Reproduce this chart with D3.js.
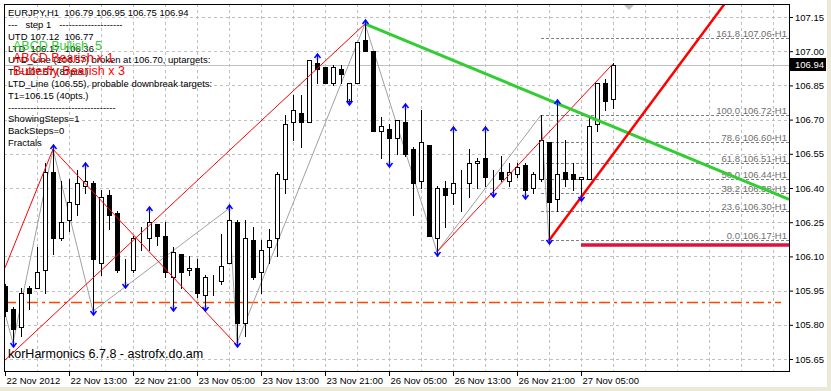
<!DOCTYPE html>
<html>
<head>
<meta charset="utf-8">
<script src="https://cdn.jsdelivr.net/npm/d3@7"></script>
<style>
  body { margin: 0; background: #fff; }
  svg { display: block; }
  text { font-family: "Liberation Sans", Arial, sans-serif; white-space: pre; }
</style>
</head>
<body>
<svg width="831" height="391"></svg>
<script>
// EURJPY H1 candles, 22 Nov 05:00 .. 27 Nov 09:00
var open = [105.97,105.87,105.79,105.96,105.96,106.04,106.47,106.18,106.26,106.33,
  106.41,106.42,106.07,106.37,106.29,106.03,106.04,106.18,106.18,106.24,
  106.19,106.01,106.11,106.04,106.05,105.93,106.00,105.99,106.07,106.25,
  105.81,106.17,106.03,106.14,106.18,106.44,106.69,106.73,106.69,106.95,
  106.93,106.86,106.92,106.78,106.86,107.05,107.00,106.65,106.66,106.62,
  106.69,106.57,106.43,106.59,106.18,106.40,106.38,106.43,106.42,106.51,
  106.53,106.46,106.47,106.43,106.46,106.50,106.40,106.44,106.60,106.35,
  106.47,106.46,106.44,106.44,106.68,106.86,106.79];
var high = [105.98,105.88,105.96,105.97,106.14,106.51,106.57,106.43,106.44,106.48,
  106.49,106.43,106.39,106.39,106.30,106.09,106.19,106.23,106.30,106.24,
  106.25,106.14,106.11,106.10,106.09,106.02,106.02,106.20,106.31,106.26,
  106.26,106.23,106.17,106.22,106.47,106.72,106.81,106.81,106.96,106.97,
  106.93,106.94,106.94,106.86,107.04,107.12,107.00,106.71,106.68,106.70,
  106.75,106.58,106.74,106.59,106.41,106.43,106.65,106.48,106.57,106.53,
  106.65,106.48,106.54,106.51,106.51,106.51,106.47,106.72,106.60,106.77,
  106.61,106.51,106.45,106.71,106.86,106.88,106.95];
var low = [105.84,105.72,105.75,105.87,105.96,105.94,106.11,106.17,106.21,106.28,
  106.38,105.86,106.02,106.22,106.03,105.98,106.03,106.13,106.13,106.15,
  106.01,105.88,105.96,106.02,105.92,105.88,105.93,105.98,106.07,105.72,
  105.75,106.00,105.94,106.07,106.10,106.38,106.61,106.58,106.69,106.86,
  106.86,106.85,106.86,106.78,106.86,107.00,106.65,106.53,106.51,106.55,
  106.54,106.28,106.40,106.19,106.12,106.23,106.33,106.30,106.36,106.40,
  106.41,106.38,106.43,106.41,106.45,106.37,106.38,106.43,106.17,106.30,
  106.41,106.39,106.36,106.44,106.65,106.74,106.75];
var close = [105.86,105.78,105.94,105.94,106.03,106.47,106.18,106.25,106.34,106.42,
  106.43,106.09,106.36,106.28,106.04,106.03,106.18,106.18,106.25,106.19,
  106.03,106.12,106.03,106.05,105.94,106.01,106.00,106.06,106.26,105.81,
  106.18,106.01,106.13,106.17,106.46,106.68,106.74,106.69,106.96,106.92,
  106.86,106.93,106.90,106.86,107.04,107.00,106.65,106.67,106.62,106.70,
  106.55,106.42,106.60,106.19,106.40,106.37,106.42,106.43,106.51,106.52,
  106.45,106.46,106.44,106.47,106.49,106.39,106.46,106.61,106.34,106.46,
  106.44,106.44,106.45,106.67,106.86,106.78,106.94];

var priceTicks = [107.15,107.00,106.85,106.70,106.55,106.40,106.25,106.10,105.95,105.80,105.65];
var timeTickBars = [0,8,16,24,32,40,48,56,64,72];
var timeTickLabels = ["22 Nov 2012","22 Nov 13:00","22 Nov 21:00","23 Nov 05:00","23 Nov 13:00",
  "23 Nov 21:00","26 Nov 05:00","26 Nov 13:00","26 Nov 21:00","27 Nov 05:00"];

var fractalUp = [6,10,18,28,39,45,50,56,60,69];
var fractalDown = [1,11,15,21,25,29,43,48,54,61,65,68,72];

// zigzag pivots [bar, price]
var zigzag = [[0,105.85],[1,105.72],[6,106.57],[11,105.86],[28,106.31],[29,105.72],
  [45,107.12],[54,106.12],[67,106.72],[68,106.17]];
// thin red pattern lines
var redLines = [
  [[0,106.05],[6,106.57]],
  [[6,106.57],[29,105.71]],
  [[0,105.645],[45,107.12]],
  [[54,106.12],[76,106.945]]
];
var utdLine = [[45,107.12],[98,106.35]];
var ltdLine = [[68,106.17],[90,107.21]];
var targetLine = [[72,106.15],[98,106.15]];
var pivotLine = [[0,105.90],[97,105.90]];

var fiboLevels = [161.8,100.0,78.6,61.8,50.0,38.2,23.6,0.0];
var fiboPrices = [107.06,106.72,106.60,106.51,106.44,106.38,106.30,106.17];
var fiboFrom = 67, fiboTo = 98;

var bidPrice = 106.94;

var infoLines = ["EURJPY,H1  106.79 106.95 106.75 106.94",
  "---   step 1   --------------------",
  "UTD 107.12  106.77",
  "LTD  106.17  106.36",
  "UTD_Line (106.57) broken at 106.70, uptargets:",
  "T1=107.57 (87pts.)",
  "LTD_Line (106.55), probable downbreak targets:",
  "T1=106.15 (40pts.)",
  "----------------------------------",
  "ShowingSteps=1",
  "BackSteps=0",
  "Fractals"];
var patternLines = ["ABCD Bullish  5","ABCD Bearish x 1","Butterfly Bearish x 3"];
var patternColors = ["#32cd32","#ff0000","#ff0000"];

var svg = d3.select("svg");
var pLeft = 4, pTop = 4, pRight = 789, pBottom = 371;

var x = d3.scaleLinear().domain([0, 76]).range([5, 613]);
var y = d3.scaleLinear().domain([105.65, 107.15]).range([359, 17]);
var line = d3.line().x(function(d) { return x(d[0]); }).y(function(d) { return y(d[1]); });

// window edges
svg.append("rect").attr("x", 827).attr("y", 0).attr("width", 4).attr("height", 391).attr("fill", "#ece9d8");
svg.append("rect").attr("x", 0).attr("y", 387).attr("width", 831).attr("height", 4).attr("fill", "#ece9d8");

svg.append("clipPath").attr("id", "clip")
  .append("rect").attr("x", pLeft + 1).attr("y", pTop + 1)
  .attr("width", pRight - pLeft - 1).attr("height", pBottom - pTop - 1);

var plot = svg.append("g").attr("clip-path", "url(#clip)");

// grid
plot.append("g").selectAll("line")
  .data(priceTicks).enter().append("line")
  .attr("x1", pLeft).attr("x2", pRight)
  .attr("y1", function(d) { return Math.round(y(d)) + 0.5; })
  .attr("y2", function(d) { return Math.round(y(d)) + 0.5; })
  .attr("stroke", "#c0c0c0").attr("stroke-dasharray", "3,3");
plot.append("g").selectAll("line")
  .data(d3.range(4, 100, 4)).enter().append("line")
  .attr("x1", function(d) { return Math.round(x(d)) + 0.5; })
  .attr("x2", function(d) { return Math.round(x(d)) + 0.5; })
  .attr("y1", pTop).attr("y2", pBottom)
  .attr("stroke", "#c0c0c0").attr("stroke-dasharray", "3,3");

// bid line
plot.append("line")
  .attr("x1", pLeft).attr("x2", pRight)
  .attr("y1", Math.round(y(bidPrice)) + 0.5).attr("y2", Math.round(y(bidPrice)) + 0.5)
  .attr("stroke", "#c0c0c0");

// pivot dash-dot
plot.append("path").datum(pivotLine).attr("d", line)
  .attr("transform", "translate(0,0.5)")
  .attr("stroke", "#ff4500").attr("stroke-width", 1.3).attr("fill", "none")
  .attr("stroke-dasharray", "11,4,3,4");

// fibo levels
var fib = plot.append("g");
fib.selectAll("line").data(fiboPrices).enter().append("line")
  .attr("x1", x(fiboFrom)).attr("x2", x(fiboTo))
  .attr("y1", function(d) { return Math.round(y(d)) + 0.5; })
  .attr("y2", function(d) { return Math.round(y(d)) + 0.5; })
  .attr("stroke", "#808080").attr("stroke-dasharray", "3,2");
fib.selectAll("text").data(fiboPrices).enter().append("text")
  .attr("x", pRight - 2).attr("y", function(d) { return Math.round(y(d)) - 1; })
  .attr("text-anchor", "end").attr("font-size", "9.5px").attr("fill", "#707070")
  .text(function(d, i) { return fiboLevels[i].toFixed(1) + " " + d.toFixed(2) + "-H1"; });

// zigzag
plot.append("path").datum(zigzag).attr("d", line)
  .attr("stroke", "#a0a0a0").attr("fill", "none");

// candles
var idx = d3.range(open.length);
var candles = plot.append("g").selectAll("g").data(idx).enter().append("g");
candles.append("line")
  .attr("x1", function(i) { return Math.round(x(i)) + 0.5; })
  .attr("x2", function(i) { return Math.round(x(i)) + 0.5; })
  .attr("y1", function(i) { return Math.round(y(high[i])); })
  .attr("y2", function(i) { return Math.round(y(low[i])) + 1; })
  .attr("stroke", "#000");
candles.append("rect")
  .attr("x", function(i) { return Math.round(x(i)) - 1.5; })
  .attr("y", function(i) { return Math.round(y(Math.max(open[i], close[i]))) + 0.5; })
  .attr("width", 4)
  .attr("height", function(i) { return Math.round(y(Math.min(open[i], close[i]))) - Math.round(y(Math.max(open[i], close[i]))); })
  .attr("fill", function(i) { return close[i] < open[i] ? "#000" : "#fff"; })
  .attr("stroke", "#000");

// red pattern lines
plot.append("g").selectAll("path").data(redLines).enter().append("path")
  .attr("d", line).attr("stroke", "#ff0000").attr("fill", "none");

// trend lines
plot.append("path").datum(utdLine).attr("d", line)
  .attr("stroke", "#32cd32").attr("stroke-width", 3).attr("fill", "none");
plot.append("path").datum(ltdLine).attr("d", line)
  .attr("stroke", "#ff0000").attr("stroke-width", 2.5).attr("fill", "none");
plot.append("path").datum(targetLine).attr("d", line)
  .attr("stroke", "#dc143c").attr("stroke-width", 3.5).attr("fill", "none");

// fractals
var arrows = plot.append("g").attr("stroke", "#0000ff").attr("fill", "none").attr("stroke-width", 1.4);
arrows.selectAll(".up").data(fractalUp).enter().append("path")
  .attr("d", function(i) {
    var cx = Math.round(x(i)) + 0.5, cy = Math.round(y(high[i])) - 4;
    return "M" + (cx - 3) + "," + (cy + 4) + "L" + cx + "," + cy + "L" + (cx + 3) + "," + (cy + 4) +
      "M" + cx + "," + cy + "V" + (cy + 6);
  });
arrows.selectAll(".dn").data(fractalDown).enter().append("path")
  .attr("d", function(i) {
    var cx = Math.round(x(i)) + 0.5, cy = Math.round(y(low[i])) + 4;
    return "M" + (cx - 3) + "," + (cy - 4) + "L" + cx + "," + cy + "L" + (cx + 3) + "," + (cy - 4) +
      "M" + cx + "," + cy + "V" + (cy - 6);
  });

// chart shift marker
svg.append("path")
  .attr("d", "M" + (x(78) - 5) + "," + (pTop + 1) + "h10l-5,5z")
  .attr("fill", "#c0c0c0");

// frame
svg.append("rect").attr("x", pLeft + 0.5).attr("y", pTop + 0.5)
  .attr("width", pRight - pLeft).attr("height", pBottom - pTop)
  .attr("fill", "none").attr("stroke", "#000");

// axes
var yAxis = svg.append("g").attr("transform", "translate(" + pRight + ",0)")
  .call(d3.axisRight(y).tickValues(priceTicks).tickSize(4).tickFormat(d3.format(".2f")));
yAxis.select(".domain").remove();
yAxis.selectAll("text").attr("font-size", "9.5px").attr("font-family", "Liberation Sans, Arial, sans-serif")
  .attr("x", 6).attr("fill", "#000");
yAxis.selectAll("line").attr("stroke", "#000");

var xAxis = svg.append("g").attr("transform", "translate(0," + pBottom + ")")
  .call(d3.axisBottom(x).tickValues(timeTickBars).tickSize(5)
    .tickFormat(function(d, i) { return timeTickLabels[i]; }));
xAxis.select(".domain").remove();
xAxis.selectAll(".tick").attr("transform", function(d) { return "translate(" + (Math.round(x(d)) + 0.5) + ",0)"; });
xAxis.selectAll("text").attr("font-size", "9.5px").attr("font-family", "Liberation Sans, Arial, sans-serif")
  .attr("text-anchor", "start").attr("x", 1).attr("y", 12.5).attr("dy", 0).attr("fill", "#000");
xAxis.selectAll("line").attr("stroke", "#000");

// bid price box
svg.append("rect").attr("x", 790).attr("y", Math.round(y(bidPrice)) - 7)
  .attr("width", 36).attr("height", 13).attr("fill", "#000");
svg.append("text").attr("x", 795).attr("y", y(bidPrice) + 3.5)
  .attr("font-size", "9.5px").attr("fill", "#fff").text(bidPrice.toFixed(2));

// info text
svg.append("g").selectAll("text").data(infoLines).enter().append("text")
  .attr("x", 8).attr("y", function(d, i) { return 16.3 + i * 11.78; })
  .attr("font-size", "9.5px").attr("fill", "#000")
  .text(function(d) { return d; });
svg.append("g").selectAll("text").data(patternLines).enter().append("text")
  .attr("x", 13).attr("y", function(d, i) { return 49.5 + i * 12.5; })
  .attr("font-size", "12.5px").attr("fill", function(d, i) { return patternColors[i]; })
  .text(function(d) { return d; });

svg.append("text").attr("x", 8).attr("y", 357.5)
  .attr("font-size", "12.5px").attr("fill", "#000")
  .text("korHarmonics 6.7.8 - astrofx.do.am");
</script>
</body>
</html>
